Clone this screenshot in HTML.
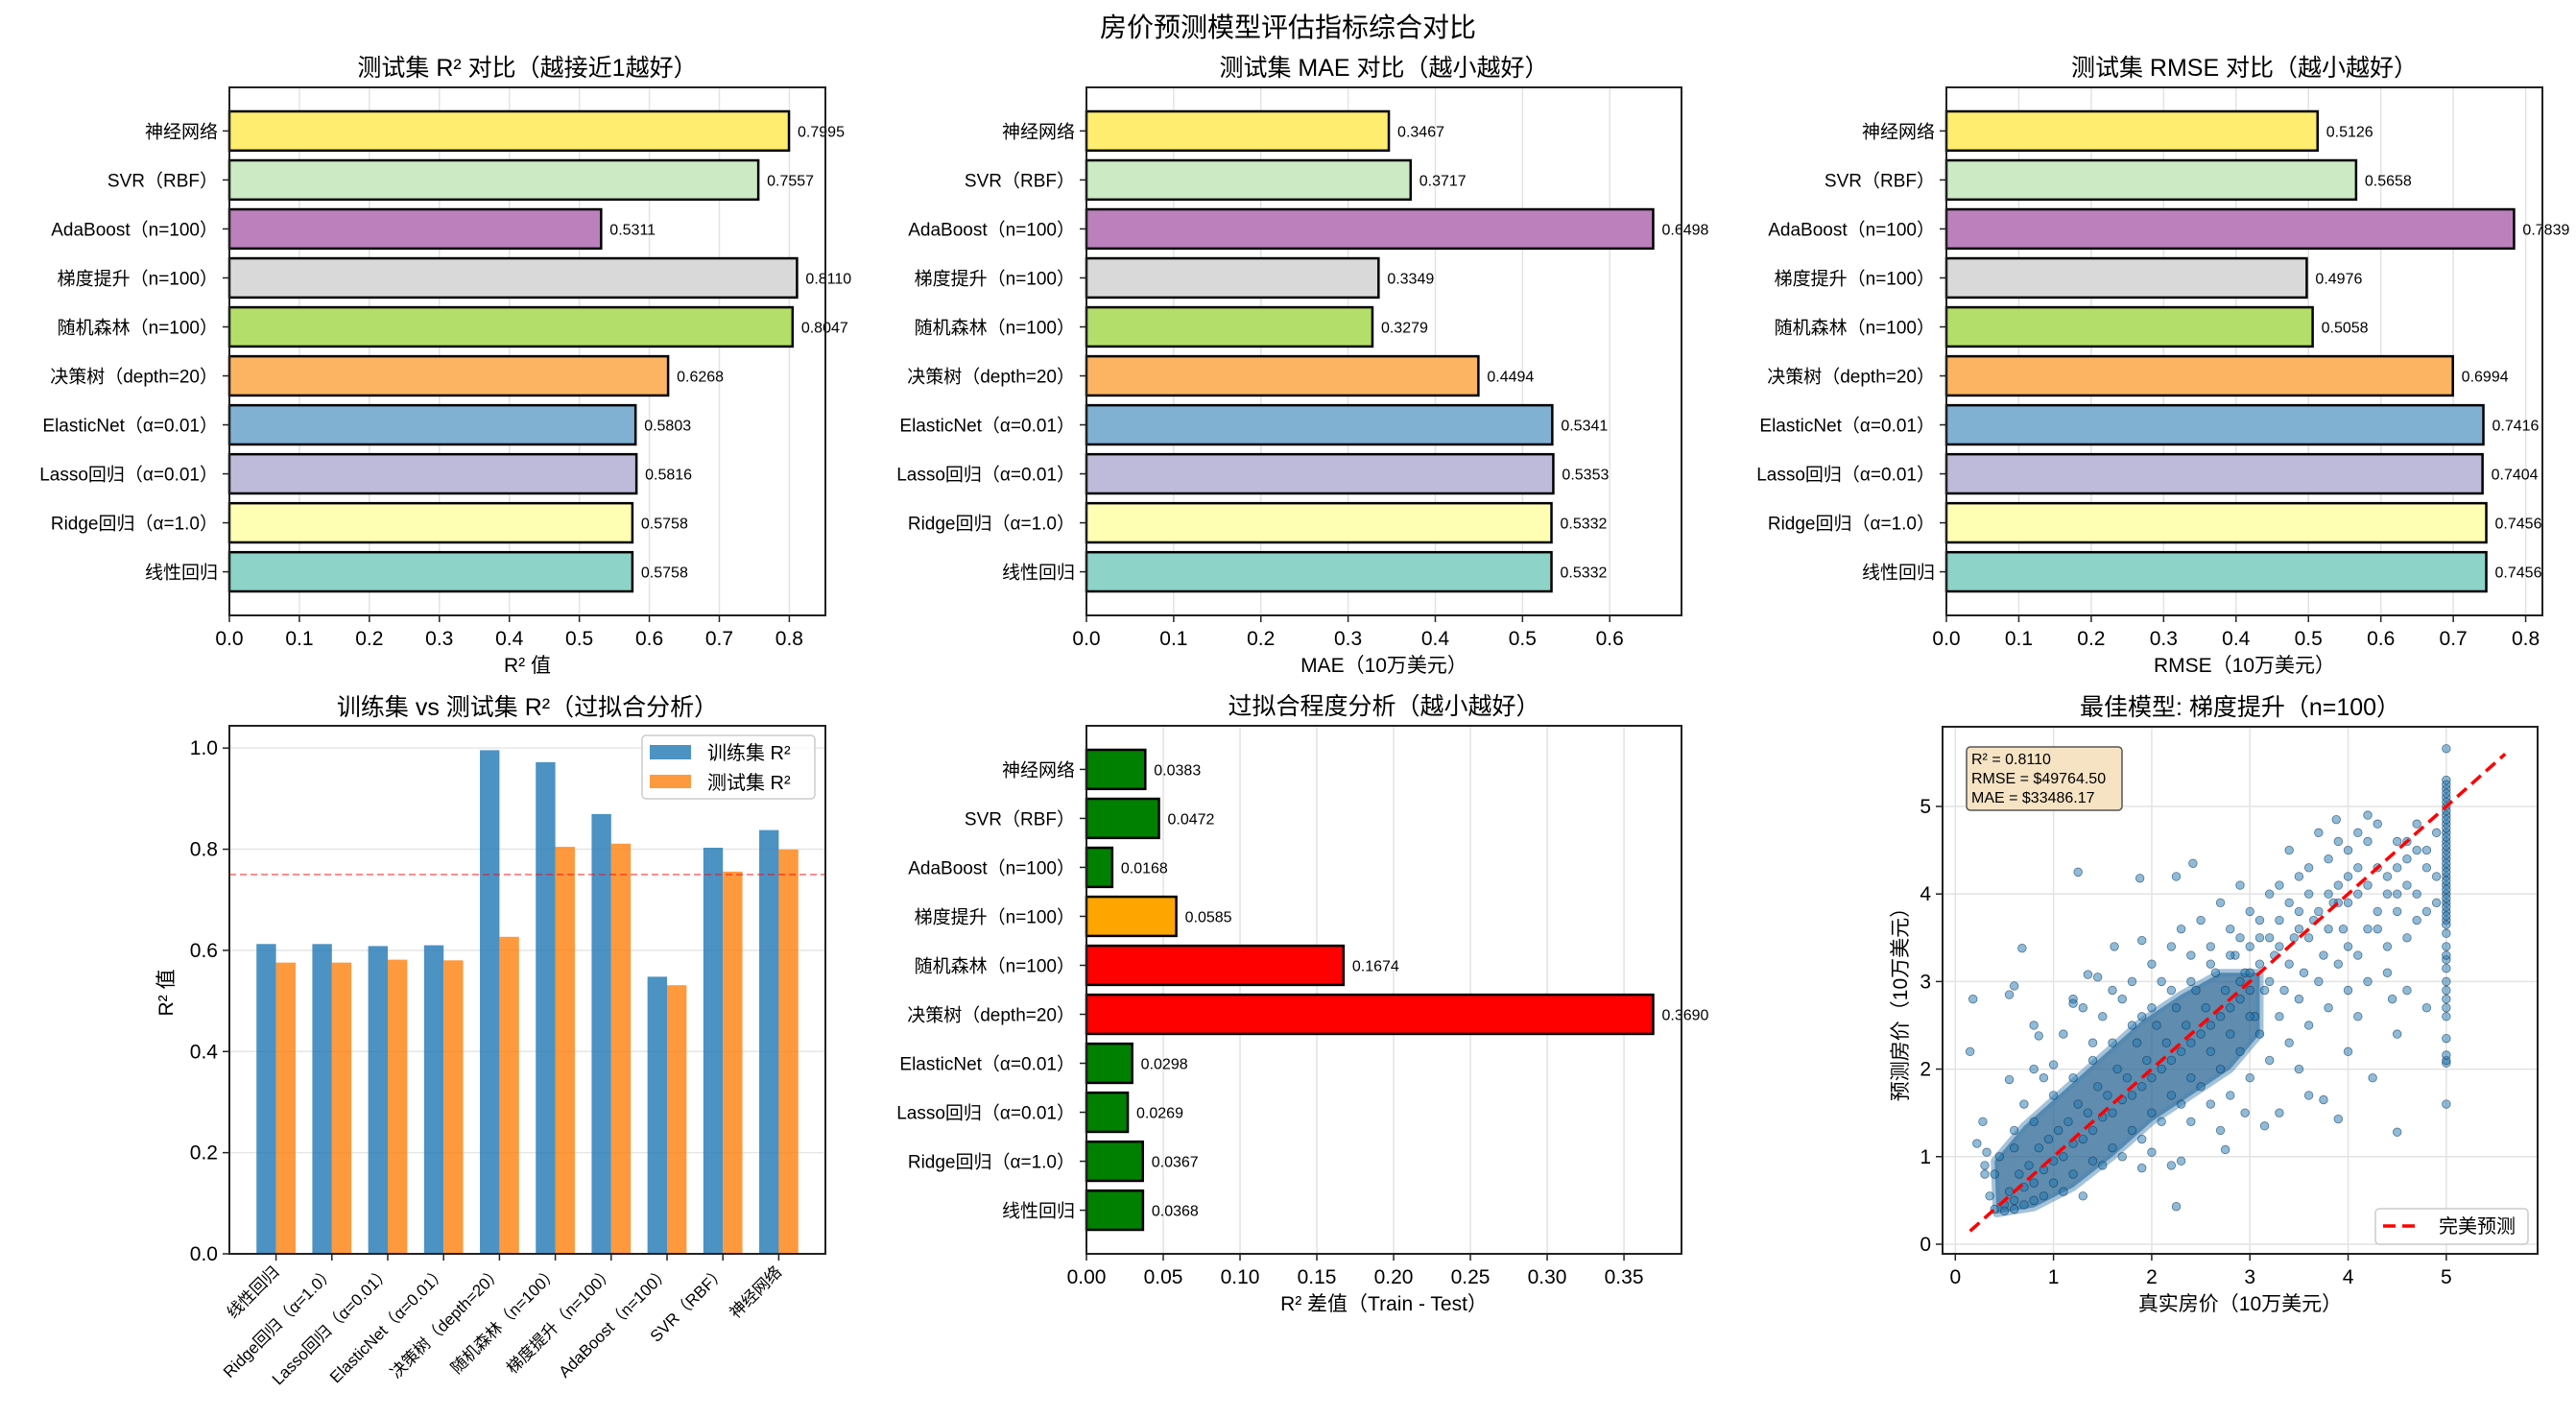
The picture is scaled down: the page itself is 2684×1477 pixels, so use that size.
<!DOCTYPE html>
<html><head><meta charset="utf-8">
<style>
html,body{margin:0;padding:0;background:#fff;}
svg{display:block;font-family:"Liberation Sans","Noto Sans CJK SC",sans-serif;}
</style></head>
<body>
<svg id="fig" width="2684" height="1477" viewBox="0 0 2684 1477" xmlns="http://www.w3.org/2000/svg">
<rect width="2684" height="1477" fill="#fff"/>
<text x="1342" y="38" text-anchor="middle" font-size="28">房价预测模型评估指标综合对比</text>
</svg>
<script>
const models = ["线性回归","Ridge回归（α=1.0）","Lasso回归（α=0.01）","ElasticNet（α=0.01）","决策树（depth=20）","随机森林（n=100）","梯度提升（n=100）","AdaBoost（n=100）","SVR（RBF）","神经网络"];
const testR2 = [0.5758,0.5758,0.5816,0.5803,0.6268,0.8047,0.8110,0.5311,0.7557,0.7995];
const trainR2 = [0.6126,0.6125,0.6085,0.6101,0.9958,0.9721,0.8695,0.5479,0.8029,0.8378];
const maeVals = [0.5332,0.5332,0.5353,0.5341,0.4494,0.3279,0.3349,0.6498,0.3717,0.3467];
const rmseVals = [0.7456,0.7456,0.7404,0.7416,0.6994,0.5058,0.4976,0.7839,0.5658,0.5126];
const gapVals = [0.0368,0.0367,0.0269,0.0298,0.3690,0.1674,0.0585,0.0168,0.0472,0.0383];
const set3 = ["#8dd3c7","#ffffb3","#bebada","#80b1d3","#fdb462","#b3de69","#d9d9d9","#bc80bd","#ccebc5","#ffed6f"];
const r2Ticks = [0,0.1,0.2,0.3,0.4,0.5,0.6,0.7,0.8];
const maeTicks = [0,0.1,0.2,0.3,0.4,0.5,0.6];
const gapTicks = [0,0.05,0.10,0.15,0.20,0.25,0.30,0.35];
const r2YTicks = [0,0.2,0.4,0.6,0.8,1.0];
const scatterTicks = [0,1,2,3,4,5];
const scatterPts = [
[0.5,0.45],[0.55,0.6],[0.6,0.5],[0.65,0.8],[0.7,0.65],[0.75,0.9],[0.8,0.7],[0.85,1.1],[0.9,0.85],[0.95,1.2],[1.0,0.95],[1.05,1.3],[1.1,1.0],[1.15,1.4],[1.2,1.15],[1.25,1.6],[1.3,1.2],[1.35,1.5],[1.4,1.3],[1.45,1.8],[1.5,1.45],[1.55,1.7],[1.6,1.5],[1.65,2.0],[1.7,1.65],[1.75,1.9],[1.8,1.7],[1.85,2.3],[1.9,1.8],[1.95,2.1],[2.0,1.9],[2.05,2.5],[2.1,2.0],[2.15,2.3],[2.2,2.1],[2.25,2.7],[2.3,2.2],[2.35,2.5],[2.4,2.3],[2.45,2.9],[2.5,2.4],[2.55,2.7],[2.6,2.5],[2.65,3.1],[2.7,2.6],[2.75,2.9],[2.8,2.7],[2.85,3.3],[2.9,2.8],[2.95,3.1],[3.0,2.9],
[0.4,0.8],[0.45,1.0],[0.6,1.3],[0.7,1.6],[0.8,2.0],[0.9,1.9],[1.0,2.05],[1.1,2.4],[1.2,2.8],[1.3,2.7],[1.4,2.3],[1.5,2.6],[1.6,2.9],[1.7,2.8],[1.8,3.0],[1.9,2.6],[2.0,3.2],[2.1,3.0],[2.2,3.4],[2.3,3.6],[2.4,3.3],[2.5,3.7],[2.6,3.4],[2.7,3.9],[2.8,3.6],[2.9,4.1],[3.0,3.8],[3.1,3.5],[3.2,4.0],[3.3,3.7],[3.4,4.5],[3.5,4.2],[3.6,4.0],[3.7,4.7],[3.8,4.4],[3.9,4.1],[4.0,4.5],[4.1,4.3],[4.2,4.6],[4.3,4.8],[4.4,4.2],[4.5,4.6],[4.6,4.4],[4.7,4.8],[4.8,4.5],[4.9,4.7],
[0.9,0.55],[1.1,0.6],[1.3,0.55],[1.5,0.9],[1.7,1.0],[1.9,1.2],[2.0,1.05],[2.1,1.4],[2.2,0.9],[2.3,1.6],[2.4,1.4],[2.5,1.8],[2.6,1.6],[2.7,2.0],[2.8,1.7],[2.9,2.2],[3.0,1.9],[3.1,2.4],[3.2,2.1],[3.3,2.6],[3.4,2.3],[3.5,2.8],[3.6,2.5],[3.7,3.0],[3.8,2.7],[3.9,3.2],[4.0,2.9],[4.1,3.3],[4.2,3.0],[4.3,3.6],[4.4,3.4],[4.5,3.8],[4.6,3.5],[4.7,4.0],[4.8,3.8],[4.9,4.2],[3.2,3.0],[3.4,3.2],[3.6,3.5],[3.8,3.6],[4.0,3.9],[4.2,4.1],[4.4,4.0],[3.3,3.4],[3.5,3.6],[3.1,3.2],[3.0,3.4],[2.9,3.5],[3.7,3.8],[3.9,3.9],[4.1,4.0],[4.3,3.8],[4.5,4.3],[4.6,4.1],[4.8,4.3],[3.5,2.0],[3.75,1.65],[4.0,2.2],[4.25,1.9],[4.5,2.4],[4.6,2.9],[4.8,2.7],[4.4,3.1],[2.7,1.3],[2.95,1.5],[3.3,1.5],[2.3,0.95],[3.6,1.7],[4.45,2.8],[4.1,2.6],
[0.15,2.2],[0.18,2.8],[0.68,3.38],[0.6,2.95],[0.55,2.85],[1.25,4.25],[1.88,4.18],[2.25,4.2],[2.42,4.35],[2.25,0.43],[0.55,1.88],[0.28,1.4],[0.22,1.15],[0.32,1.05],[4.5,1.28],[3.9,1.43],[3.15,1.35],[2.75,1.08],[1.9,0.87],[1.9,3.47],[1.62,3.4],[3.88,4.85],[4.2,4.9],[0.3,0.8],[0.35,0.55],[0.4,0.4],[0.5,0.38],[0.6,0.4],[0.3,0.9],[0.8,2.5],[0.85,2.38],[1.2,2.75],[1.35,3.08],[1.45,3.05],
[3.05,2.6],[3.15,2.9],[3.25,3.3],[3.35,2.9],[3.45,3.5],[3.55,3.1],[3.65,3.7],[3.75,3.3],[3.85,3.9],[3.95,3.6],[3.1,3.7],[3.2,3.5],[3.4,3.9],[3.3,4.1],[3.5,3.8],[3.6,4.3],[2.2,2.9],[2.4,3.0],[2.6,3.2],[2.8,3.3],[2.9,3.0],[3.0,3.1],[2.6,2.2],[2.8,2.4],[3.0,2.6],[2.4,1.9],[2.2,1.7],[2.0,1.5],[1.8,1.3],[1.6,1.1],[1.4,0.95],[1.2,0.8],[1.0,0.7],[0.8,0.5],[0.7,0.45],
[1.0,1.7],[1.2,1.9],[1.4,2.1],[1.6,2.3],[1.8,2.5],[2.0,2.7],[0.6,1.1],[0.8,1.4],[4.0,3.4],[4.2,3.6],[4.3,4.3],[4.6,4.6],[4.7,4.5],[4.0,4.2],[3.8,4.0],[3.9,4.6],[4.1,4.7],[4.5,4.0],[4.7,3.7],[4.9,3.9],
[5,1.6],[5,2.07],[5,2.1],[5,2.16],[5,2.35],[5,2.6],[5,2.7],[5,2.8],[5,2.9],[5,3.0],[5,3.15],[5,3.25],[5,3.3],[5,3.4],[5,3.55],[5,3.7],[5,3.8],[5,3.9],[5,4.0],[5,4.1],[5,4.2],[5,4.3],[5,4.4],[5,4.5],[5,4.6],[5,4.7],[5,4.8],[5,4.9],[5,5.0],[5,5.1],[5,5.2],[5,5.3],[5,5.66],[5,3.65],[5,3.75],[5,3.85],[5,3.95],[5,4.05],[5,4.15],[5,4.25],[5,4.35],[5,4.45],[5,4.55],[5,4.65],[5,4.75],[5,4.85],[5,4.95],[5,5.05],[5,5.15],[5,5.25]
];
const corePoly = [[0.42,0.35],[0.8,0.42],[1.2,0.65],[1.6,1.0],[2.0,1.4],[2.4,1.7],[2.8,2.0],[3.1,2.4],[3.1,3.1],[2.7,3.1],[2.3,2.85],[1.9,2.55],[1.5,2.15],[1.1,1.75],[0.7,1.35],[0.4,0.95]];

const NS="http://www.w3.org/2000/svg";
const svg=document.getElementById('fig');
function el(tag,attrs,parent,text){const e=document.createElementNS(NS,tag);for(const k in attrs)e.setAttribute(k,attrs[k]);if(text!==undefined)e.textContent=text;(parent||svg).appendChild(e);return e;}

function frame(g,L,T,R,B){
  const f=el('rect',{x:L,y:T,width:R-L,height:B-T,fill:'none',stroke:'#222','stroke-width':2},g);
  
  
}

function hbar(name,L,T,R,B,vals,xmax,ticks,colors,title,xlabel,fmtTick){
  const g=el('g',{},svg);
  
  
  const xs=v=>L+(v/xmax)*(R-L);
  const ymin=-0.89,ymax=9.89;
  const ys=i=>B-(i-ymin)/(ymax-ymin)*(B-T);
  const bh=0.8*(B-T)/(ymax-ymin);
  ticks.forEach(t=>{
    const x=xs(t);
    el('line',{x1:x,y1:T,x2:x,y2:B,stroke:'#e3e3e3','stroke-width':1.5},g);
    el('line',{x1:x,y1:B,x2:x,y2:B+7,stroke:'#222','stroke-width':1.5},g);
    const tl=el('text',{x:x,y:B+31,'text-anchor':'middle','font-size':21},g,fmtTick(t));
    
    
  });
  vals.forEach((v,i)=>{
    const y=ys(i);
    const r=el('rect',{x:L,y:y-bh/2,width:xs(v)-L,height:bh,fill:colors[i],stroke:'#000','stroke-width':2.5},g);
    
    
    const vl=el('text',{x:xs(v)+9,y:y+6,'font-size':16},g,v.toFixed(4));
    
    
    el('line',{x1:L-7,y1:y,x2:L,y2:y,stroke:'#222','stroke-width':1.5},g);
    const yl=el('text',{x:L-12,y:y+7,'text-anchor':'end','font-size':19},g,models[i]);
    
    
  });
  frame(g,L,T,R,B);
  const tt=el('text',{x:(L+R)/2,y:T-12,'text-anchor':'middle','font-size':25},g,title);
  
  
  const xl=el('text',{x:(L+R)/2,y:B+59,'text-anchor':'middle','font-size':21},g,xlabel);
  
  
}
const f1=t=>t.toFixed(1), f2=t=>t.toFixed(2);
hbar('r2-panel',239,91,860,641,testR2,Math.max(...testR2)*1.05,r2Ticks,set3,'测试集 R² 对比（越接近1越好）','R² 值',f1);
hbar('mae-panel',1132,91,1752,641,maeVals,Math.max(...maeVals)*1.05,maeTicks,set3,'测试集 MAE 对比（越小越好）','MAE（10万美元）',f1);
hbar('rmse-panel',2028,91,2649,641,rmseVals,Math.max(...rmseVals)*1.05,r2Ticks,set3,'测试集 RMSE 对比（越小越好）','RMSE（10万美元）',f1);
const gapColors=gapVals.map(v=>v<0.05?'#008000':(v<0.1?'#ffa500':'#ff0000'));
hbar('overfit-panel',1132,756,1752,1306,gapVals,Math.max(...gapVals)*1.05,gapTicks,gapColors,'过拟合程度分析（越小越好）','R² 差值（Train - Test）',f2);

(function(){
  const L=239,T=756,R=860,B=1306;
  const g=el('g',{},svg);
  
  
  const xmin=-0.835,xmax=9.835,ymax=1.044;
  const xs=i=>L+(i-xmin)/(xmax-xmin)*(R-L);
  const ys=v=>B-v/ymax*(B-T);
  r2YTicks.forEach(t=>{
    const y=ys(t);
    el('line',{x1:L,y1:y,x2:R,y2:y,stroke:'#e6e6e6','stroke-width':1.5},g);
    el('line',{x1:L-7,y1:y,x2:L,y2:y,stroke:'#222','stroke-width':1.5},g);
    const tl=el('text',{x:L-12,y:y+7,'text-anchor':'end','font-size':21},g,t.toFixed(1));
    
    
  });
  const w=xs(0.35)-xs(0);
  models.forEach((m,i)=>{
    const x=xs(i);
    const b1=el('rect',{x:x-w,y:ys(trainR2[i]),width:w,height:B-ys(trainR2[i]),fill:'#1f77b4','fill-opacity':0.8},g);
    
    
    const b2=el('rect',{x:x,y:ys(testR2[i]),width:w,height:B-ys(testR2[i]),fill:'#ff7f0e','fill-opacity':0.8},g);
    
    
    el('line',{x1:x,y1:B,x2:x,y2:B+7,stroke:'#222','stroke-width':1.5},g);
    const tl=el('text',{x:x+4,y:B+20,'text-anchor':'end','font-size':17,transform:`rotate(-45 ${x+4} ${B+20})`},g,m);
    
    
  });
  const ref=el('line',{x1:L,y1:ys(0.75),x2:R,y2:ys(0.75),stroke:'#ff0000','stroke-opacity':0.5,'stroke-width':1.8,'stroke-dasharray':'7,4'},g);
  
  
  frame(g,L,T,R,B);
  const lg=el('g',{},g);
  
  
  el('rect',{x:669,y:766,width:180,height:66,rx:4,fill:'#fff','fill-opacity':0.8,stroke:'#ccc','stroke-width':1.5},lg);
  el('rect',{x:677,y:776,width:43,height:15,fill:'#1f77b4','fill-opacity':0.8},lg);
  el('text',{x:737,y:791,'font-size':20},lg,'训练集 R²');
  el('rect',{x:677,y:807,width:43,height:14,fill:'#ff7f0e','fill-opacity':0.8},lg);
  el('text',{x:737,y:822,'font-size':20},lg,'测试集 R²');
  const tt=el('text',{x:(L+R)/2,y:T-11,'text-anchor':'middle','font-size':25},g,'训练集 vs 测试集 R²（过拟合分析）');
  
  
  const yl=el('text',{x:180,y:1034,'text-anchor':'middle','font-size':21,transform:'rotate(-90 180 1034)'},g,'R² 值');
  
  
})();

(function(){
  const L=2024,T=757,R=2644,B=1306;
  const g=el('g',{},svg);
  
  
  const xmin=-0.13,xmax=5.93,ymin=-0.11,ymax=5.91;
  const xs=v=>L+(v-xmin)/(xmax-xmin)*(R-L);
  const ys=v=>B-(v-ymin)/(ymax-ymin)*(B-T);
  scatterTicks.forEach(t=>{
    el('line',{x1:xs(t),y1:T,x2:xs(t),y2:B,stroke:'#e3e3e3','stroke-width':1.5},g);
    el('line',{x1:L,y1:ys(t),x2:R,y2:ys(t),stroke:'#e3e3e3','stroke-width':1.5},g);
    el('line',{x1:xs(t),y1:B,x2:xs(t),y2:B+7,stroke:'#222','stroke-width':1.5},g);
    el('line',{x1:L-7,y1:ys(t),x2:L,y2:ys(t),stroke:'#222','stroke-width':1.5},g);
    const a=el('text',{x:xs(t),y:B+31,'text-anchor':'middle','font-size':21},g,String(t));
    
    
    const b=el('text',{x:L-12,y:ys(t)+7,'text-anchor':'end','font-size':21},g,String(t));
    
    
  });
  const core=el('polygon',{points:corePoly.map(p=>xs(p[0])+','+ys(p[1])).join(' '),fill:'#2a6594','fill-opacity':0.75,stroke:'#4a86b4','stroke-width':8,'stroke-opacity':0.5,'stroke-linejoin':'round'},g);
  
  
  scatterPts.forEach(p=>{
    const c=el('circle',{cx:xs(p[0]),cy:ys(p[1]),r:4.3,fill:'#1f77b4','fill-opacity':0.5,stroke:'#0b2e4a','stroke-opacity':0.6,'stroke-width':0.8},g);
    
    
  });
  const dl=el('line',{x1:xs(0.15),y1:ys(0.15),x2:xs(5.6),y2:ys(5.6),stroke:'#ff0000','stroke-width':3.5,'stroke-dasharray':'13,7'},g);
  
  
  frame(g,L,T,R,B);
  const box=el('g',{},g);
  
  
  el('rect',{x:2049,y:778,width:162,height:66,rx:4,fill:'#f5e3c4',stroke:'#555','stroke-width':1.5},box);
  el('text',{x:2054,y:796,'font-size':16},box,'R² = 0.8110');
  el('text',{x:2054,y:816,'font-size':16},box,'RMSE = $49764.50');
  el('text',{x:2054,y:836,'font-size':16},box,'MAE = $33486.17');
  const lg=el('g',{},g);
  
  
  el('rect',{x:2475,y:1259,width:159,height:37,rx:4,fill:'#fff','fill-opacity':0.8,stroke:'#ccc','stroke-width':1.5},lg);
  el('line',{x1:2483,y1:1277,x2:2522,y2:1277,stroke:'#ff0000','stroke-width':3.5,'stroke-dasharray':'13,7'},lg);
  el('text',{x:2541,y:1284,'font-size':20},lg,'完美预测');
  const tt=el('text',{x:(L+R)/2,y:T-12,'text-anchor':'middle','font-size':25},g,'最佳模型: 梯度提升（n=100）');
  
  
  const xl=el('text',{x:(L+R)/2,y:1365,'text-anchor':'middle','font-size':21},g,'真实房价（10万美元）');
  
  
  const yl=el('text',{x:1987,y:1041,'text-anchor':'middle','font-size':21,transform:'rotate(-90 1987 1041)'},g,'预测房价（10万美元）');
  
  
})();
</script>
</body></html>
